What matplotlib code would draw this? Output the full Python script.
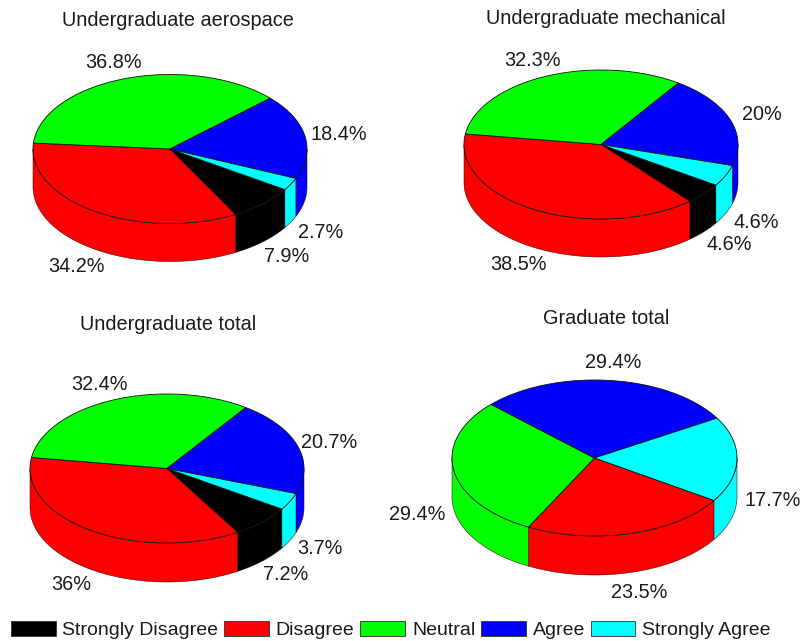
import numpy as np
import matplotlib
matplotlib.use('Agg')
import matplotlib.pyplot as plt
from matplotlib.patches import Patch, Polygon

plt.rcParams['font.family'] = ['Liberation Sans', 'DejaVu Sans']

W, H = 803, 641

# -----------
# survey responses, percent per answer
# -----------
answers = ['Strongly Disagree', 'Disagree', 'Neutral', 'Agree', 'Strongly Agree']
colors = ['#000000', '#ff0000', '#00ff00', '#0000ff', '#00ffff']

aerospace = [7.9, 34.2, 36.8, 18.4, 2.7]
mechanical = [4.6, 38.5, 32.3, 20, 4.6]
undergrad = [7.2, 36, 32.4, 20.7, 3.7]
graduate = [0, 23.5, 29.4, 29.4, 17.7]

titles = ['Undergraduate aerospace', 'Undergraduate mechanical',
          'Undergraduate total', 'Graduate total']
series = [aerospace, mechanical, undergrad, graduate]

# layout in pixels: centre x, centre y, x radius, y radius, wall depth
geometry = [(170, 149, 137, 74.5, 38),
            (601, 144.5, 137, 74.5, 38),
            (167, 468.5, 137, 74.5, 39),
            (594.5, 458, 142.5, 78, 39)]
title_pos = [(178, 21), (606, 19), (168, 324), (606, 318)]
# one label spot per non-empty slice, in answer order
label_pos = [[(287, 256), (76, 266), (114, 62), (339, 134), (321, 232)],
             [(729, 245), (518, 265), (532, 60), (762, 115), (756, 222)],
             [(286, 575), (71, 585), (99, 384), (329, 442), (320, 549)],
             [None, (639, 592), (417, 514), (613, 362), (773, 500)]]

START = -33.0  # degrees, slices run clockwise from here


def fmt(v):
    return '%g%%' % v


fig = plt.figure(figsize=(W / 100, H / 100), dpi=100)
ax = fig.add_axes([0, 0, 1, 1])
ax.set_xlim(0, W)
ax.set_ylim(H, 0)
ax.axis('off')


def wall(a_hi, a_lo, c, cx, cy, rx, ry, depth):
    # only the front half of the rim shows
    lo, hi = max(a_lo, -180.0), min(a_hi, 0.0)
    if hi <= lo:
        return
    t = np.radians(np.linspace(hi, lo, 80))
    x = cx + rx * np.cos(t)
    y = cy - ry * np.sin(t)
    pts = np.r_[np.c_[x, y], np.c_[x, y + depth][::-1]]
    ax.add_patch(Polygon(pts, closed=True, fc=c, ec='#300000', lw=0.35, zorder=2))


def pie3(values, cx, cy, rx, ry, depth):
    a0 = START
    for v, c in zip(values, colors):
        a1 = a0 - v * 3.6
        if v > 0:
            wall(a0, a1, c, cx, cy, rx, ry, depth)
            wall(a0 + 360, a1 + 360, c, cx, cy, rx, ry, depth)
            # top face
            t = np.radians(np.linspace(a0, a1, 120))
            top = np.c_[cx + rx * np.cos(t), cy - ry * np.sin(t)]
            top = np.r_[[[cx, cy]], top]
            ax.add_patch(Polygon(top, closed=True, fc=c, ec='#101010', lw=0.6, zorder=3))
        a0 = a1


for vals, geo, title, tpos, lpos in zip(series, geometry, titles, title_pos, label_pos):
    pie3(vals, *geo)
    ax.text(tpos[0], tpos[1], title, ha='center', va='center', fontsize=14.3, color='#1a1a1a')
    for v, p in zip(vals, lpos):
        if p is not None:
            ax.text(p[0], p[1], fmt(v), ha='center', va='center', fontsize=14.3, color='#1a1a1a')

handles = [Patch(facecolor=c, edgecolor='#303030', linewidth=0.6) for c in colors]
fig.legend(handles, answers, ncol=5, loc='lower left', bbox_to_anchor=(9 / W, 0),
           frameon=False, fontsize=14, borderpad=0.1, borderaxespad=0,
           handlelength=2.3, handleheight=0.85, handletextpad=0.35, columnspacing=0.3,
           labelcolor='#1a1a1a')

fig.savefig('out.png', dpi=100)
